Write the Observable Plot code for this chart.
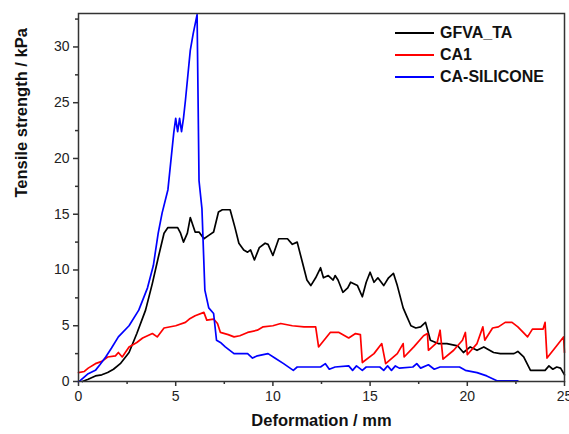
<!DOCTYPE html>
<html>
<head>
<meta charset="utf-8">
<script src="https://cdn.jsdelivr.net/npm/d3@7"></script>
<script src="https://cdn.jsdelivr.net/npm/@observablehq/plot@0.6"></script>
<style>
  html, body { margin: 0; padding: 0; background: #fff; }
  #wrap { position: relative; width: 569px; height: 434px; font-family: "Liberation Sans", Arial, sans-serif; }
  #legend { position: absolute; left: 395px; top: 22px; }
  .item { display: flex; align-items: center; height: 22px; font-weight: bold; font-size: 16px; color: #111; }
  .sw { width: 39px; height: 0; border-top: 2px solid; margin-right: 6px; }
</style>
</head>
<body>
<div id="wrap"></div>
<script>
// Series names and colors
const seriesNames = ["GFVA_TA", "CA1", "CA-SILICONE"];
const seriesColors = ["#000000", "#ff0000", "#0000ff"];

// GFVA_TA (black)
const gfvaX = [0.2,0.5,0.87,1.2,1.5,1.8,2.15,2.6,3.0,3.45,3.8,4.1,4.4,4.6,5.1,5.25,5.4,5.6,5.75,6.0,6.2,6.45,6.7,6.95,7.2,7.4,7.8,8.05,8.25,8.5,8.7,8.85,9.05,9.3,9.6,9.75,10.0,10.3,10.75,11.0,11.25,11.5,11.75,11.95,12.2,12.45,12.6,12.85,13.1,13.2,13.35,13.6,13.85,14.0,14.35,14.6,14.8,15.0,15.2,15.4,15.7,15.95,16.2,16.4,16.7,16.9,17.1,17.35,17.6,17.85,18.1,18.5,18.95,19.5,19.8,20.15,20.5,20.85,21.35,21.7,22.4,22.6,22.9,23.25,24.0,24.2,24.4,24.6,24.8,25.0];
const gfvaY = [0,0.2,0.5,0.6,0.8,1.1,1.6,2.6,4.3,6.4,8.8,11.1,13.3,13.8,13.8,13.3,12.5,13.3,14.7,13.4,13.4,12.8,13.1,13.4,15.2,15.4,15.4,13.8,12.4,11.8,11.6,11.8,10.9,12.0,12.4,12.3,11.3,12.8,12.8,12.3,12.5,10.8,9.1,8.6,9.3,10.2,9.3,9.5,9.1,9.5,9.1,8.0,8.4,8.9,8.6,7.6,8.9,9.8,8.9,9.3,8.6,9.3,9.7,8.6,6.6,5.8,5.0,4.8,4.9,5.3,3.7,3.4,3.4,3.2,2.6,3.1,2.8,3.1,2.6,2.5,2.5,2.7,2.2,1.0,1.0,1.4,1.1,1.3,1.2,0.6];

// CA1 (red)
const ca1X = [0,0.3,0.5,0.87,1.2,1.5,1.9,2.05,2.25,2.6,3.0,3.3,3.8,4.05,4.4,5.0,5.5,5.7,6.0,6.45,6.6,6.95,7.15,7.3,7.7,8.0,8.3,8.7,9.2,9.5,10.0,10.4,11.0,11.6,12.2,12.35,12.95,13.4,13.9,14.25,14.5,14.6,15.2,15.6,15.8,16.4,16.7,16.75,17.25,17.75,17.95,18.0,18.45,18.6,18.75,19.3,19.75,19.9,20.0,20.5,20.8,20.9,21.3,21.6,21.95,22.3,22.6,23.1,23.35,23.9,24.0,24.1,24.6,24.95,25.0];
const ca1Y = [0.8,0.9,1.2,1.6,1.8,2.2,2.3,2.6,2.2,3.1,3.5,3.9,4.3,4.0,4.8,5.0,5.3,5.6,5.9,6.2,5.5,5.6,5.2,4.4,4.2,4.0,4.1,4.4,4.6,4.9,5.0,5.2,5.0,4.9,4.9,3.1,4.4,4.4,3.9,4.3,4.2,1.7,2.5,3.4,1.6,2.5,3.4,2.2,3.1,4.1,4.3,2.8,3.5,4.6,2.0,2.8,3.7,4.4,2.4,3.4,4.9,3.7,4.8,4.9,5.3,5.3,4.9,4.0,4.7,4.7,5.3,2.1,3.2,4.0,2.6];

// CA-SILICONE (blue)
const casX = [0,0.1,0.5,0.87,1.1,1.4,1.7,2.05,2.6,3.1,3.55,3.85,4.1,4.3,4.6,4.9,5.0,5.1,5.2,5.3,5.4,5.5,5.75,5.9,6.1,6.2,6.35,6.5,6.7,6.95,7.1,7.3,7.55,8.0,8.7,8.95,9.2,9.75,10.1,10.55,11.05,11.25,12.0,12.45,12.7,12.9,13.2,13.9,14.1,14.3,14.6,14.8,15.5,15.7,15.9,16.1,16.3,16.5,17.2,17.4,17.6,18.0,18.3,18.6,19.6,19.9,20.5,21.0,21.55,22.6];
const casY = [0,0.1,0.7,1.0,1.5,2.2,3.0,4.0,5.0,6.4,8.4,10.4,13.3,15.1,17.2,22.3,23.6,22.4,23.6,22.4,23.6,25.2,29.7,31.2,32.9,18.0,15.5,8.2,6.6,6.1,3.7,3.5,3.1,2.5,2.5,2.1,2.3,2.5,2.1,1.6,1.0,1.3,1.3,1.3,1.6,1.1,1.3,1.4,1.0,1.4,1.0,1.3,1.3,1.0,1.4,1.0,1.4,1.2,1.3,1.6,1.2,1.5,1.1,1.3,1.3,1.0,0.8,0.5,0.05,0.05];

// Axis ticks and titles
const xMajor = [0, 5, 10, 15, 20, 25];
const xMinor = [2.5, 7.5, 12.5, 17.5, 22.5];
const yMajor = [0, 5, 10, 15, 20, 25, 30];
const yMinor = [2.5, 7.5, 12.5, 17.5, 22.5, 27.5, 32.5];
const xTitle = "Deformation / mm";
const yTitle = "Tensile strength / kPa";

const toRows = (xs, ys) => xs.map((x, i) => ({x, y: ys[i]}));
const series = [toRows(gfvaX, gfvaY), toRows(ca1X, ca1Y), toRows(casX, casY)];

const chart = Plot.plot({
  width: 569,
  height: 434,
  marginTop: 13,
  marginRight: 5,
  marginBottom: 53,
  marginLeft: 78,
  x: {domain: [0, 25]},
  y: {domain: [0, 33]},
  style: {fontFamily: "'Liberation Sans', Arial, sans-serif", fontSize: "14px", color: "#222", background: "#fff"},
  marks: [
    Plot.axisX({ticks: xMinor, tickSize: 3, text: null, label: null, stroke: "#333", strokeWidth: 1.5}),
    Plot.axisX({ticks: xMajor, tickSize: 5, tickPadding: 5, label: null, tickFormat: d => d, stroke: "#333", strokeWidth: 1.5}),
    Plot.axisY({ticks: yMinor, tickSize: 3, text: null, label: null, stroke: "#333", strokeWidth: 1.5}),
    Plot.axisY({ticks: yMajor, tickSize: 5, tickPadding: 4, label: null, tickFormat: d => d, stroke: "#333", strokeWidth: 1.5}),
    ...series.map((rows, i) => Plot.line(rows, {x: "x", y: "y", stroke: seriesColors[i], strokeWidth: 1.7})),
    Plot.frame({stroke: "#333", strokeWidth: 1.5}),
    Plot.text([xTitle], {frameAnchor: "bottom", dy: 44, fontWeight: "bold", fontSize: 16.5, fill: "#111"}),
    Plot.text([yTitle], {frameAnchor: "left", dx: -57, rotate: -90, fontWeight: "bold", fontSize: 16.5, fill: "#111"})
  ]
});

const wrap = document.getElementById("wrap");
wrap.appendChild(chart);

const legend = document.createElement("div");
legend.id = "legend";
seriesNames.forEach((name, i) => {
  const item = document.createElement("div");
  item.className = "item";
  const sw = document.createElement("span");
  sw.className = "sw";
  sw.style.borderTopColor = seriesColors[i];
  item.appendChild(sw);
  const label = document.createElement("span");
  label.textContent = name;
  item.appendChild(label);
  legend.appendChild(item);
});
wrap.appendChild(legend);
</script>
</body>
</html>
